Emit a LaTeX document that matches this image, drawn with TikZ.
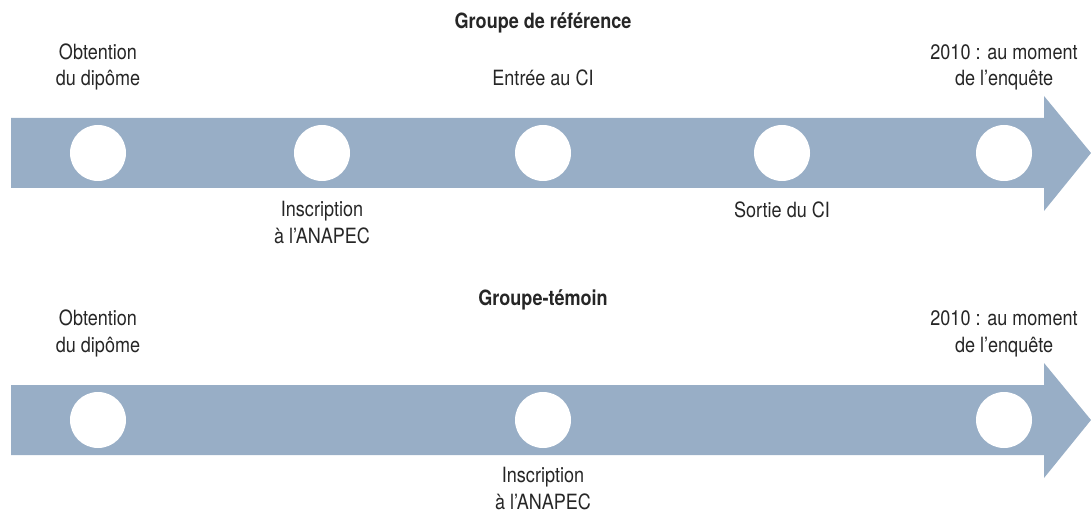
\documentclass[tikz,border=0pt]{standalone}
\usepackage{fontspec}
\setmainfont{TeX Gyre Heros}[FakeStretch=0.86]
\usepackage{tikz}

\definecolor{axe}{HTML}{98AEC6}
\tikzset{
  dot/.style={circle, fill=white, inner sep=0pt, minimum size=28pt},
  lbl/.style={align=center, font=\fontsize{10.5}{13.2}\selectfont, text=black!85, anchor=base},
  titre/.style={font=\bfseries\fontsize{10.5}{13.2}\selectfont, text=black!85, anchor=base},
}

\begin{document}
\begin{tikzpicture}[x=0.5pt, y=-0.5pt]
  \useasboundingbox (0,0) rectangle (1091,513);
  % groupe de reference
  \fill[axe] (11,118) -- (1044,118) -- (1044,96) -- (1091,153) -- (1044,211)
    -- (1044,188) -- (11,188) -- cycle;
  \node[dot] (a1) at (98,153) {};
  \node[dot] (a2) at (322,153) {};
  \node[dot] (a3) at (543,153) {};
  \node[dot] (a4) at (782,153) {};
  \node[dot] (a5) at (1004,153) {};
  \node[titre] (ref) at (543,29) {Groupe de référence};
  \node[lbl] (dip1) at (98,86) {Obtention\\du dipôme};
  \node[lbl] (ins1) at (322,243) {Inscription\\à l’ANAPEC};
  \node[lbl] (ent) at (543,86) {Entrée au CI};
  \node[lbl] (sor) at (782,218) {Sortie du CI};
  \node[lbl] (enq1) at (1004,86) {2010 : au moment\\de l’enquête};
  % groupe temoin
  \fill[axe] (11,385) -- (1044,385) -- (1044,363) -- (1091,420) -- (1044,478)
    -- (1044,455) -- (11,455) -- cycle;
  \node[dot] (b1) at (98,420) {};
  \node[dot] (b2) at (543,420) {};
  \node[dot] (b3) at (1004,420) {};
  \node[titre] (tem) at (543,305) {Groupe-témoin};
  \node[lbl] (dip2) at (98,352) {Obtention\\du dipôme};
  \node[lbl] (ins2) at (543,509) {Inscription\\à l’ANAPEC};
  \node[lbl] (enq2) at (1004,352) {2010 : au moment\\de l’enquête};
\end{tikzpicture}
\end{document}
